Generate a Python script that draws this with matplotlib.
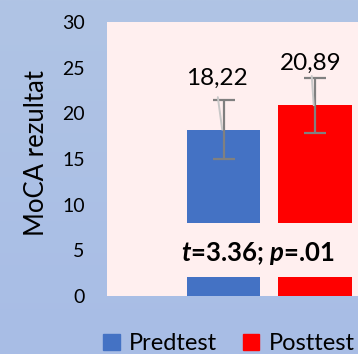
import matplotlib
matplotlib.use("Agg")
import matplotlib.pyplot as plt
import numpy as np

plt.rcParams['font.family'] = ['Lato', 'DejaVu Sans']
plt.rcParams['mathtext.fontset'] = 'custom'
plt.rcParams['mathtext.bfit'] = 'Lato:italic:bold'

# data
groups = ['Predtest', 'Posttest']
means = [18.22, 20.89]
errs = [3.2, 3.0]
labels = ['18,22', '20,89']
colors = ['#4472C4', '#FF0000']
yticks = [0, 5, 10, 15, 20, 25, 30]
stat_text = r'$\mathbfit{t}$=3.36; $\mathbfit{p}$=.01'

W, H = 358, 354
fig = plt.figure(figsize=(W / 100, H / 100), dpi=100)

# light blue gradient background
bg = fig.add_axes([0, 0, 1, 1], zorder=-5)
grad = np.linspace(0, 1, 256)[:, None]
top = np.array([176, 196, 228]) / 255
bot = np.array([168, 189, 230]) / 255
img = top[None, None, :] * (1 - grad[:, :, None]) + bot[None, None, :] * grad[:, :, None]
bg.imshow(img, aspect='auto', extent=[0, 1, 0, 1])
bg.axis('off')

ax = fig.add_axes([107 / W, 1 - 296 / H, (432 - 107) / W, (296 - 22) / H])
ax.set_facecolor('#FFEFEF')
for s in ax.spines.values():
    s.set_visible(False)

xpos = [-0.283, 0.28]
ax.bar(xpos, means, width=0.452, color=colors, zorder=2)
ax.errorbar(xpos, means, yerr=errs, fmt='none', ecolor='#808080',
            elinewidth=1.6, capsize=8, capthick=1.6, zorder=3)

# data labels with leader lines
lab_off = [(-0.035, 3.2 + 0.35), (-0.02, 3.0 + 0.2)]
lab_gap = [0.9, 0.2]
for x, m, lab, (dx, dy), g in zip(xpos, means, labels, lab_off, lab_gap):
    ax.annotate('', xy=(x - 0.008, m), xytext=(x + dx, m + dy),
                arrowprops=dict(arrowstyle='-', color='#C8C8C8', lw=1.4,
                                shrinkA=0, shrinkB=0), zorder=4)
    ax.text(x + dx - 0.005, m + dy + g, lab, ha='center', va='bottom',
            fontsize=17.5, color='black', zorder=5)

# statistic text box
ax.axhspan(2.08, 8.0, fc='#FFEFEF', ec='none', zorder=4)
ax.text(-0.075, 4.6, stat_text, ha='center', va='center', fontsize=18.5,
        fontweight='bold', zorder=5)

ax.set_xlim(-1, 1)
ax.set_ylim(0, 30)
ax.set_yticks(yticks)
ax.set_xticks([])
ax.tick_params(axis='y', length=0, pad=16, labelsize=14)
ax.set_ylabel('MoCA rezultat', fontsize=18.5)
ax.yaxis.set_label_coords((49 - 107) / (432 - 107), (296 - 153) / (296 - 22))

handles = [plt.Rectangle((0, 0), 1, 1, color=c) for c in colors]
fig.legend(handles, groups, loc='center', bbox_to_anchor=(229 / W, 1 - 344 / H),
           ncol=2, frameon=False, fontsize=17, handlelength=0.68,
           handleheight=0.68, handletextpad=0.4, columnspacing=1.1,
           borderaxespad=0, borderpad=0)

fig.savefig('out.png', dpi=100)
